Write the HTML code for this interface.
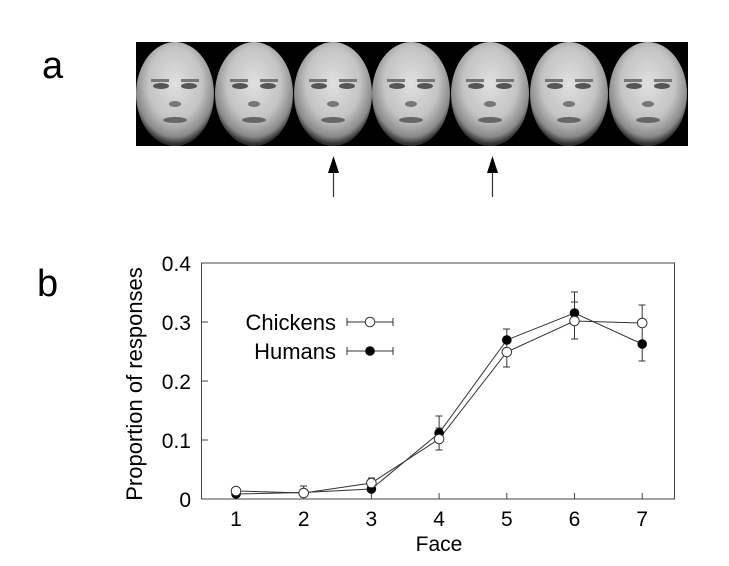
<!DOCTYPE html>
<html><head><meta charset="utf-8"><style>
html,body{margin:0;padding:0;background:#fff;}
svg{display:block;font-family:"Liberation Sans",Arial,sans-serif;}
</style></head><body>
<svg width="729" height="566" viewBox="0 0 729 566" xmlns="http://www.w3.org/2000/svg">
<defs>
<radialGradient id="fg" cx="50%" cy="40%" r="58%">
<stop offset="0" stop-color="#e0e0e0"/><stop offset="0.6" stop-color="#c4c4c4"/><stop offset="0.88" stop-color="#8a8a8a"/><stop offset="1" stop-color="#303030"/>
</radialGradient>
<g id="face">
<ellipse cx="0" cy="0" rx="39" ry="52" fill="url(#fg)"/>
<ellipse cx="-14" cy="-8" rx="8" ry="3" fill="#555"/>
<ellipse cx="14" cy="-8" rx="8" ry="3" fill="#555"/>
<rect x="-24" y="-15" width="18" height="3" fill="#777"/>
<rect x="6" y="-15" width="18" height="3" fill="#777"/>
<ellipse cx="0" cy="10" rx="6" ry="3" fill="#777"/>
<ellipse cx="0" cy="26" rx="12" ry="3" fill="#666"/>
</g>
</defs>
<text x="42" y="78" font-size="38">a</text>
<rect x="136" y="42" width="552" height="104" fill="#000"/>
<use href="#face" x="175" y="94"/>
<use href="#face" x="254" y="94"/>
<use href="#face" x="333" y="94"/>
<use href="#face" x="411" y="94"/>
<use href="#face" x="490" y="94"/>
<use href="#face" x="569" y="94"/>
<use href="#face" x="648" y="94"/>
<line x1="333.5" y1="170" x2="333.5" y2="197" stroke="#333" stroke-width="1.2"/>
<polygon points="333.5,156 328,173 339,173" fill="#000"/>
<line x1="492.5" y1="170" x2="492.5" y2="197" stroke="#333" stroke-width="1.2"/>
<polygon points="492.5,156 487,173 498,173" fill="#000"/>

<text x="37" y="296" font-size="38">b</text>
<rect x="201.5" y="263" width="473" height="236" fill="none" stroke="#444" stroke-width="1"/>
<g stroke="#444" stroke-width="1">
<line x1="201.5" y1="440" x2="208" y2="440"/><line x1="201.5" y1="381" x2="208" y2="381"/><line x1="201.5" y1="322" x2="208" y2="322"/>
<line x1="236" y1="499" x2="236" y2="493"/><line x1="303.7" y1="499" x2="303.7" y2="493"/><line x1="371.4" y1="499" x2="371.4" y2="493"/><line x1="439.1" y1="499" x2="439.1" y2="493"/><line x1="506.8" y1="499" x2="506.8" y2="493"/><line x1="574.5" y1="499" x2="574.5" y2="493"/><line x1="642.2" y1="499" x2="642.2" y2="493"/>
</g>
<g font-size="21" text-anchor="end">
<text x="191" y="507">0</text><text x="191" y="448">0.1</text><text x="191" y="389">0.2</text><text x="191" y="330">0.3</text><text x="191" y="271">0.4</text>
</g>
<g font-size="21" text-anchor="middle">
<text x="236" y="526">1</text><text x="303.7" y="526">2</text><text x="371.4" y="526">3</text><text x="439.1" y="526">4</text><text x="506.8" y="526">5</text><text x="574.5" y="526">6</text><text x="642.2" y="526">7</text>
<text x="439" y="551">Face</text>
</g>
<text transform="translate(142,384) rotate(-90)" font-size="22" text-anchor="middle">Proportion of responses</text>

<g stroke="#333" stroke-width="1" fill="none">
<path d="M303.7,486V497M300,486h7M300,497h7"/>
<path d="M371.4,478V494M368,478h7"/>
<path d="M439.1,416V450M435.5,416h7M435.5,450h7M435.5,428h7"/>
<path d="M506.8,329V367M503,329h7M503,367h7"/>
<path d="M574.5,292V339M571,292h7M571,339h7M571,302h7"/>
<path d="M642.2,305V361M638.5,305h7M638.5,361h7"/>
<polyline points="236,491 303.7,493 371.4,483 439.1,439 506.8,352 574.5,321 642.2,323"/>
<polyline points="236,494 303.7,492.5 371.4,489 439.1,433 506.8,340 574.5,313 642.2,344"/>
</g>
<g fill="#000">
<circle cx="236" cy="494" r="4.8"/><circle cx="303.7" cy="492.5" r="4.8"/><circle cx="371.4" cy="489" r="4.8"/><circle cx="439.1" cy="433" r="4.8"/><circle cx="506.8" cy="340" r="4.8"/><circle cx="574.5" cy="313" r="4.8"/><circle cx="642.2" cy="344" r="4.8"/>
</g>
<g fill="#fff" stroke="#333" stroke-width="1">
<circle cx="236" cy="491" r="4.8"/><circle cx="303.7" cy="493" r="4.8"/><circle cx="371.4" cy="483" r="4.8"/><circle cx="439.1" cy="439" r="4.8"/><circle cx="506.8" cy="352" r="4.8"/><circle cx="574.5" cy="321" r="4.8"/><circle cx="642.2" cy="323" r="4.8"/>
</g>
<g font-size="22" text-anchor="end">
<text x="336" y="330">Chickens</text><text x="336" y="359">Humans</text>
</g>
<g stroke="#333" stroke-width="1">
<path d="M347,322H393M347,318v8M393,318v8"/>
<path d="M347,351H393M347,347v8M393,347v8"/>
</g>
<circle cx="370" cy="322" r="4.8" fill="#fff" stroke="#333"/>
<circle cx="370" cy="351" r="4.8" fill="#000"/>
</svg>
</body></html>
